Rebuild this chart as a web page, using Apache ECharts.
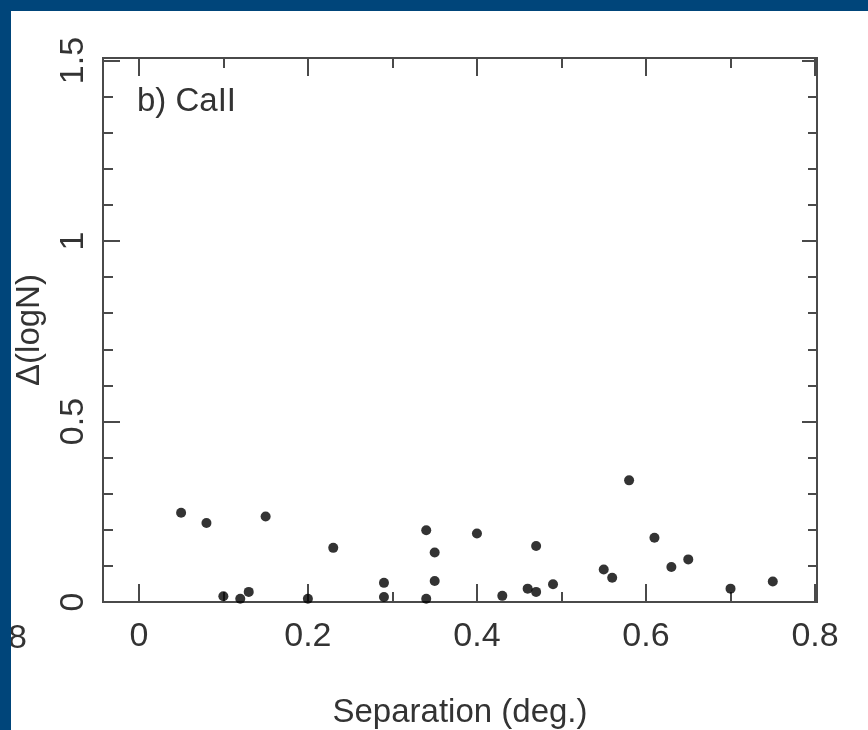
<!DOCTYPE html>
<html>
<head>
<meta charset="utf-8">
<script src="https://cdn.jsdelivr.net/npm/echarts@6/dist/echarts.min.js"></script>
<style>
html,body{margin:0;padding:0;background:#fff;}
#c{width:868px;height:730px;}
</style>
</head>
<body>
<div id="c"></div>
<script>
// Data
var separation = [0.05, 0.08, 0.15, 0.23, 0.10, 0.12, 0.13, 0.20, 0.29, 0.29, 0.34, 0.35, 0.35, 0.34, 0.40, 0.43, 0.46, 0.47, 0.47, 0.49, 0.58, 0.55, 0.56, 0.61, 0.63, 0.65, 0.70, 0.75];
var deltaLogN  = [0.247, 0.219, 0.237, 0.150, 0.016, 0.009, 0.028, 0.009, 0.053, 0.014, 0.199, 0.137, 0.058, 0.009, 0.190, 0.017, 0.037, 0.028, 0.155, 0.049, 0.337, 0.090, 0.067, 0.178, 0.097, 0.118, 0.037, 0.057];
var xMajorTicks = [0, 0.2, 0.4, 0.6, 0.8];
var xMinorTicks = [0.1, 0.3, 0.5, 0.7];
var yMajorTicks = [0, 0.5, 1, 1.5];
var yMinorTicks = [0.1, 0.2, 0.3, 0.4, 0.6, 0.7, 0.8, 0.9, 1.1, 1.2, 1.3, 1.4];
var panelLabel = 'b) CaII';
var xName = 'Separation (deg.)';
var yName = '\u0394(logN)';

var points = separation.map(function (x, i) { return [x, deltaLogN[i]]; });

var FONT = "'Liberation Sans', Arial, sans-serif";
var TXT = '#333';
var AX = '#4a4a4a';
var XMIN = -0.0424, XMAX = 0.8023, YMIN = 0, YMAX = 1.507;

function xAx(pos, ticks, len, withLabel) {
  var a = {
    type: 'value', position: pos, min: XMIN, max: XMAX,
    axisLine: { show: true, onZero: false, lineStyle: { color: AX, width: 2 } },
    axisTick: { show: true, inside: true, length: len, customValues: ticks, lineStyle: { color: AX, width: 2 } },
    axisLabel: { show: false },
    splitLine: { show: false }
  };
  if (withLabel) {
    a.axisLabel = { show: true, customValues: ticks, fontSize: 34, fontFamily: FONT, color: TXT, margin: 18,
      formatter: function (v) { return String(Math.round(v * 10) / 10); } };
    a.name = xName; a.nameLocation = 'middle'; a.nameGap = 94;
    a.nameTextStyle = { fontSize: 33, fontFamily: FONT, color: TXT };
  }
  return a;
}
function yAx(pos, ticks, len, withLabel) {
  var a = {
    type: 'value', position: pos, min: YMIN, max: YMAX,
    axisLine: { show: true, onZero: false, lineStyle: { color: AX, width: 2 } },
    axisTick: { show: true, inside: true, length: len, customValues: ticks, lineStyle: { color: AX, width: 2 } },
    axisLabel: { show: false },
    splitLine: { show: false }
  };
  if (withLabel) {
    a.axisLabel = { show: true, customValues: ticks, rotate: 90, fontSize: 34, fontFamily: FONT, color: TXT, margin: 12,
      formatter: function (v) { return String(Math.round(v * 10) / 10); } };
    a.name = yName; a.nameLocation = 'middle'; a.nameRotate = 90; a.nameGap = 57;
    a.nameTextStyle = { fontSize: 33, fontFamily: FONT, color: TXT };
  }
  return a;
}

var chart = echarts.init(document.getElementById('c'), null, { renderer: 'canvas' });
chart.setOption({
  backgroundColor: '#ffffff',
  animation: false,
  title: { text: panelLabel, left: 137, top: 85, padding: 0,
    textStyle: { fontSize: 33, fontWeight: 'normal', fontFamily: FONT, color: TXT } },
  grid: { left: 103, right: 51, top: 58, bottom: 128, containLabel: false, outerBoundsMode: 'none' },
  xAxis: [
    xAx('bottom', xMajorTicks, 18, true),
    xAx('bottom', xMinorTicks, 10, false),
    xAx('top', xMajorTicks, 18, false),
    xAx('top', xMinorTicks, 10, false)
  ],
  yAxis: [
    yAx('left', yMajorTicks, 17, true),
    yAx('left', yMinorTicks, 10, false),
    yAx('right', yMajorTicks, 15, false),
    yAx('right', yMinorTicks, 9, false)
  ],
  series: [{
    type: 'scatter', xAxisIndex: 0, yAxisIndex: 0,
    symbol: 'circle', symbolSize: 10,
    itemStyle: { color: '#000' },
    data: points
  }],
  graphic: [
    { type: 'text', left: 8, top: 622, z: 10, style: { text: '8', fontSize: 34, fontFamily: FONT, fill: TXT } },
    { type: 'rect', shape: { x: 0, y: 0, width: 868, height: 11 }, style: { fill: '#00457a' }, z: 100 },
    { type: 'rect', shape: { x: 0, y: 0, width: 11, height: 730 }, style: { fill: '#00457a' }, z: 100 }
  ]
});
</script>
</body>
</html>
